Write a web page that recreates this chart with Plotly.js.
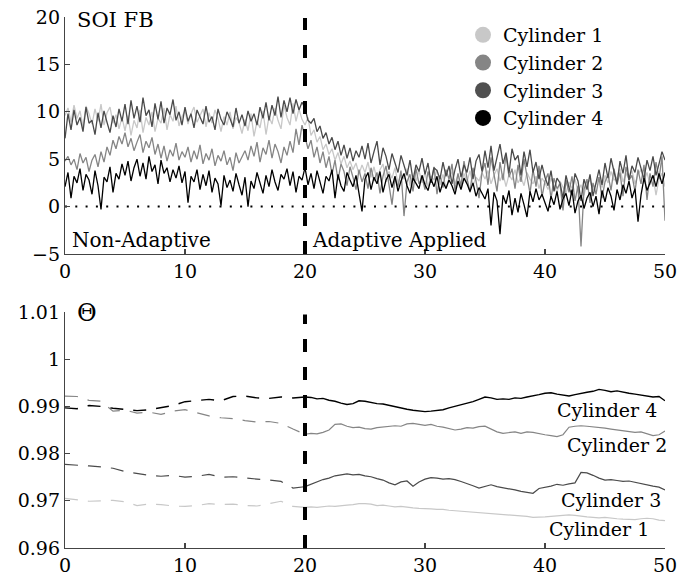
<!DOCTYPE html>
<html>
<head>
<meta charset="utf-8">
<script src="https://cdn.plot.ly/plotly-3.0.1.min.js"></script>
<style>html,body{margin:0;padding:0;background:#fff;}#chart{width:692px;height:578px;}</style>
</head>
<body>
<div id="chart"></div>
<script>
// ---------- DATA ----------
const seriesNames = ["Cylinder 1", "Cylinder 2", "Cylinder 3", "Cylinder 4"];
const topStep = 0.25;      // sample spacing of the SOI FB traces
const thetaPreStep = 1;    // sample spacing of Theta before adaptation (t = 0..20)
const thetaPostStep = 0.5; // sample spacing of Theta after adaptation (t = 20..50)
const adaptTime = 20;
const xTicks = [0, 10, 20, 30, 40, 50];
const soiTicks = [-5, 0, 5, 10, 15, 20];
const thetaTicks = [0.96, 0.97, 0.98, 0.99, 1, 1.01];
const thetaTickText = ["0.96", "0.97", "0.98", "0.99", "1", "1.01"];

// SOI FB, Cylinder 1 (t = 0..50 step 0.25)
const soiCyl1 = [
 9.6,10.4,8.9,10.7,9.3,10.1,8.4,10.6,9.8,8.7,10.3,9.0,10.8,8.6,9.9,10.5,8.8,9.7,8.2,9.4,
 8.0,9.6,7.5,9.1,8.3,10.2,7.8,9.4,8.6,10.0,7.9,9.3,8.8,10.4,8.1,9.7,9.0,10.6,8.5,9.5,
 10.1,8.7,9.8,10.5,8.9,9.6,10.3,8.4,9.9,8.8,10.2,9.3,7.9,9.5,8.6,10.0,8.2,9.4,8.9,7.7,
 9.2,8.0,9.8,7.4,9.0,8.3,10.1,7.6,9.5,8.7,10.4,9.1,8.2,10.7,9.4,8.6,10.9,9.0,10.3,9.2,
 8.6,9.4,7.5,8.1,6.8,7.4,6.0,6.6,5.5,6.1,4.9,5.7,4.5,5.3,4.1,4.8,3.9,4.6,3.4,4.4,
 3.6,4.7,3.1,4.2,2.8,3.9,4.5,2.6,3.7,3.0,4.1,2.4,3.5,2.9,4.0,2.2,3.3,2.7,3.8,2.5,
 3.6,2.1,3.2,2.8,3.9,2.3,3.4,1.9,3.0,3.7,2.4,3.3,2.0,3.5,2.6,3.8,2.2,3.1,2.7,3.6,
 2.9,3.8,2.4,3.3,4.0,2.7,3.5,2.1,3.4,2.8,3.9,2.5,3.1,2.2,3.6,2.9,2.4,3.2,1.9,3.0,
 2.5,1.8,3.0,2.2,1.5,2.7,2.0,1.4,2.6,1.9,2.9,1.6,2.3,1.2,2.5,2.8,1.7,2.4,3.1,2.0,
 3.3,2.5,3.7,2.8,3.1,4.0,2.6,3.5,2.9,3.8,2.4,3.4,3.9,2.7,3.6,2.3,3.2,1.2,2.9,3.5,
 2.1];
// SOI FB, Cylinder 2
const soiCyl2 = [
 4.8,5.3,4.4,5.0,3.9,5.6,4.6,5.2,3.7,4.9,5.5,4.2,5.8,4.7,6.3,5.4,7.0,6.1,7.4,6.6,
 7.8,6.3,7.2,5.9,6.8,7.6,5.7,6.9,6.2,7.3,5.5,6.6,5.1,6.4,4.8,6.0,5.3,6.7,4.9,5.8,
 5.2,6.3,4.7,5.9,5.0,6.5,4.5,5.6,4.9,6.1,4.3,5.4,4.8,5.9,4.4,5.2,3.8,5.7,4.6,5.3,
 5.9,4.9,6.4,5.3,6.8,4.7,6.2,5.5,7.0,5.1,6.6,5.8,4.6,6.3,5.4,6.9,5.7,8.2,6.5,8.6,
 7.4,6.1,7.0,5.2,6.3,4.6,5.8,4.1,5.3,3.4,4.9,2.8,4.5,3.7,2.2,4.2,3.1,1.8,3.9,2.6,
 3.5,1.9,4.1,2.7,3.6,1.4,3.2,4.3,2.3,0.2,3.0,2.1,3.8,-1.0,2.6,3.4,1.6,4.0,2.4,3.1,
 1.8,3.7,2.5,4.2,1.3,3.3,2.0,3.9,2.9,4.5,1.7,3.5,2.2,4.8,3.0,1.5,4.1,2.7,0.9,3.6,
 4.6,2.3,5.2,3.4,1.6,4.7,2.8,5.5,3.1,4.0,1.9,4.4,2.6,5.0,3.3,1.4,3.9,2.1,4.3,1.0,
 2.7,3.5,0.8,3.0,1.9,2.4,-0.4,2.8,1.5,3.2,0.6,2.2,-4.2,1.8,2.9,0.4,2.5,1.3,3.1,0.9,
 2.6,3.4,1.7,4.0,2.3,3.6,1.1,4.2,2.8,3.3,1.6,3.9,2.4,4.4,0.7,3.5,2.1,4.7,2.9,5.3,
 -1.5];
// SOI FB, Cylinder 3
const soiCyl3 = [
 7.2,9.8,8.1,10.2,8.6,9.4,7.9,10.5,8.8,9.1,7.6,9.9,8.3,10.1,8.9,7.8,9.6,8.4,10.3,9.0,
 10.8,8.7,11.2,9.3,10.6,8.9,11.5,9.6,10.2,8.4,10.9,9.2,11.1,8.8,10.4,9.7,11.3,9.1,10.0,8.6,
 10.5,9.0,9.8,8.3,10.2,9.4,8.7,10.6,8.9,9.5,8.1,10.3,9.2,8.6,10.0,9.3,8.4,10.4,8.8,9.7,
 8.5,10.1,9.0,9.8,8.6,10.5,9.3,11.0,9.1,10.7,9.6,11.6,9.4,11.2,10.0,11.5,9.8,11.3,10.2,11.0,
 10.4,9.1,8.8,9.3,7.9,8.5,7.2,7.8,6.6,7.3,6.0,6.9,5.4,6.5,5.1,6.2,4.8,5.9,5.2,6.4,
 5.0,6.7,4.6,5.8,6.9,4.4,6.2,5.3,3.9,5.6,4.7,3.6,5.4,4.2,3.3,4.9,2.8,4.4,3.7,5.1,
 3.4,4.6,2.5,4.1,3.8,2.9,4.7,3.2,4.3,2.4,3.9,5.0,3.1,4.4,3.6,5.2,2.9,4.8,5.5,3.7,
 5.9,4.1,6.4,3.8,5.3,6.6,4.5,5.7,3.5,6.1,4.9,5.4,3.3,5.8,4.2,6.0,3.6,4.7,2.9,4.4,
 3.1,2.2,3.8,1.6,3.0,2.5,0.9,3.3,2.0,1.2,3.5,2.7,0.6,2.9,1.8,3.4,1.1,2.6,3.9,2.3,
 4.6,3.0,5.1,3.7,2.4,4.8,3.5,5.4,2.8,4.3,3.6,5.2,4.0,2.9,4.9,3.8,5.3,3.3,4.5,5.8,
 4.9];
// SOI FB, Cylinder 4
const soiCyl4 = [
 2.1,3.6,0.9,3.2,2.5,4.0,1.7,3.4,2.8,1.3,3.8,2.2,-0.3,3.1,2.6,4.2,1.5,3.5,2.9,4.5,
 3.3,4.8,2.7,4.1,5.0,3.2,4.6,2.9,5.3,3.7,4.4,2.4,4.9,3.5,4.1,2.6,3.9,3.0,4.3,2.5,
 3.7,0.4,3.2,2.6,3.9,1.8,3.4,2.2,3.8,1.5,3.0,2.4,0.1,3.3,2.0,2.8,1.6,3.5,2.3,1.2,
 3.1,0.0,2.7,1.9,3.6,2.4,1.4,3.3,2.1,3.9,2.6,1.7,3.4,2.9,4.0,2.2,3.7,1.5,3.2,2.8,
 4.1,2.3,3.5,1.9,3.8,2.6,1.4,3.2,2.7,3.9,0.9,3.4,2.2,1.6,3.6,2.8,2.1,3.3,1.2,-0.5,
 2.9,3.6,1.8,3.1,2.4,3.7,1.5,2.8,3.4,2.0,3.2,1.6,2.7,3.5,2.2,1.4,3.0,2.5,1.9,3.3,
 2.3,1.7,2.9,2.1,3.2,1.5,2.6,1.9,2.8,2.2,1.3,2.7,1.8,3.0,2.4,1.6,2.5,1.1,2.0,1.4,
 0.8,1.9,-2.0,1.5,0.6,-2.9,1.2,0.3,1.7,-0.9,0.9,-0.6,1.4,0.2,-1.1,1.6,0.5,1.9,0.7,1.3,
 0.4,-0.5,1.1,0.2,1.6,-0.3,0.8,1.4,0.1,1.8,-0.7,0.6,1.2,-0.2,0.9,1.5,0.0,1.1,-0.8,1.7,
 0.5,2.0,1.1,-0.4,1.8,0.7,2.3,1.4,2.7,0.9,1.9,-1.6,1.2,3.0,1.7,2.6,3.3,2.1,3.5,2.4,
 3.6];

// Theta before adaptation (t = 0..20 step 1)
const thetaPreCyl1 = [0.9705,0.9702,0.9699,0.9700,0.9701,0.9698,0.9690,0.9693,0.9692,0.9689,0.9688,0.9690,0.9694,0.9692,0.9693,0.9690,0.9689,0.9694,0.9699,0.9688,0.9686];
const thetaPreCyl2 = [0.9922,0.9921,0.9913,0.9911,0.9890,0.9892,0.9886,0.9888,0.9883,0.9890,0.9893,0.9887,0.9880,0.9876,0.9874,0.9870,0.9867,0.9868,0.9864,0.9852,0.9841];
const thetaPreCyl3 = [0.9777,0.9776,0.9774,0.9772,0.9769,0.9762,0.9758,0.9754,0.9752,0.9754,0.9750,0.9752,0.9756,0.9750,0.9751,0.9748,0.9746,0.9744,0.9741,0.9727,0.9730];
const thetaPreCyl4 = [0.9897,0.9895,0.9902,0.9900,0.9896,0.9893,0.9891,0.9893,0.9898,0.9902,0.9910,0.9913,0.9915,0.9912,0.9921,0.9922,0.9918,0.9917,0.9920,0.9918,0.9920];

// Theta after adaptation (t = 20..50 step 0.5)
const thetaPostCyl1 = [0.9686,0.9687,0.9686,0.9688,0.9689,0.9688,0.9690,0.9691,0.9692,0.9694,0.9694,0.9693,0.9690,0.9691,0.9689,0.9687,0.9688,0.9686,0.9685,0.9684,0.9684,0.9683,0.9682,0.9682,0.9680,0.9679,0.9678,0.9677,0.9677,0.9676,0.9674,0.9673,0.9672,0.9671,0.9671,0.9669,0.9668,0.9667,0.9665,0.9665,0.9666,0.9667,0.9668,0.9669,0.9670,0.9669,0.9667,0.9666,0.9665,0.9664,0.9665,0.9663,0.9662,0.9661,0.9660,0.9660,0.9662,0.9663,0.9662,0.9659,0.9658];
const thetaPostCyl2 = [0.9841,0.9843,0.9842,0.9845,0.9850,0.9862,0.9863,0.9858,0.9855,0.9856,0.9853,0.9852,0.9855,0.9856,0.9857,0.9859,0.9858,0.9863,0.9864,0.9862,0.9860,0.9862,0.9858,0.9856,0.9853,0.9850,0.9852,0.9855,0.9854,0.9857,0.9858,0.9852,0.9846,0.9843,0.9845,0.9846,0.9843,0.9846,0.9845,0.9842,0.9840,0.9838,0.9836,0.9840,0.9856,0.9858,0.9859,0.9858,0.9857,0.9855,0.9854,0.9852,0.9850,0.9849,0.9847,0.9845,0.9846,0.9842,0.9838,0.9840,0.9848];
const thetaPostCyl3 = [0.9730,0.9735,0.9740,0.9745,0.9748,0.9753,0.9755,0.9757,0.9755,0.9756,0.9753,0.9751,0.9747,0.9744,0.9738,0.9734,0.9740,0.9742,0.9731,0.9740,0.9746,0.9749,0.9748,0.9746,0.9747,0.9745,0.9741,0.9737,0.9732,0.9727,0.9731,0.9734,0.9730,0.9728,0.9725,0.9723,0.9720,0.9718,0.9716,0.9726,0.9728,0.9731,0.9735,0.9733,0.9736,0.9738,0.9760,0.9759,0.9754,0.9748,0.9744,0.9745,0.9743,0.9741,0.9742,0.9739,0.9737,0.9733,0.9731,0.9729,0.9723];
const thetaPostCyl4 = [0.9920,0.9919,0.9916,0.9917,0.9913,0.9911,0.9907,0.9904,0.9906,0.9912,0.9911,0.9908,0.9906,0.9905,0.9902,0.9899,0.9897,0.9894,0.9892,0.9890,0.9889,0.9890,0.9891,0.9893,0.9897,0.9900,0.9904,0.9907,0.9910,0.9915,0.9920,0.9918,0.9915,0.9916,0.9915,0.9918,0.9917,0.9920,0.9922,0.9925,0.9928,0.9929,0.9926,0.9924,0.9922,0.9925,0.9928,0.9930,0.9932,0.9936,0.9934,0.9931,0.9933,0.9930,0.9928,0.9926,0.9924,0.9922,0.9920,0.9921,0.9912];

// ---------- BUILD ----------
function times(start, step, n){ const t=[]; for(let i=0;i<n;i++) t.push(+(start+i*step).toFixed(4)); return t; }
const tTop = times(0, topStep, soiCyl1.length);
const tPre = times(0, thetaPreStep, thetaPreCyl1.length);
const tPost = times(adaptTime, thetaPostStep, thetaPostCyl1.length);

const lineColors = ["#c8c8c8", "#858585", "#4a4a4a", "#000000"];
const legendColors = ["#c8c8c8", "#858585", "#505050", "#000000"];
const soi = [soiCyl1, soiCyl2, soiCyl3, soiCyl4];
const pre = [thetaPreCyl1, thetaPreCyl2, thetaPreCyl3, thetaPreCyl4];
const post = [thetaPostCyl1, thetaPostCyl2, thetaPostCyl3, thetaPostCyl4];

const FONT = "DejaVu Serif";
const traces = [];
soi.forEach((v, i) => traces.push({x: tTop, y: v, type: "scatter", mode: "lines", xaxis: "x", yaxis: "y",
  line: {color: lineColors[i], width: 1.3}, showlegend: false, hoverinfo: "skip"}));
pre.forEach((v, i) => traces.push({x: tPre, y: v, type: "scatter", mode: "lines", xaxis: "x2", yaxis: "y2",
  line: {color: lineColors[i], width: i === 3 ? 1.4 : 1.2, dash: "13px,10px"}, showlegend: false, hoverinfo: "skip"}));
post.forEach((v, i) => traces.push({x: tPost, y: v, type: "scatter", mode: "lines", xaxis: "x2", yaxis: "y2",
  line: {color: lineColors[i], width: i === 3 ? 1.4 : 1.2}, showlegend: false, hoverinfo: "skip"}));
seriesNames.forEach((n, i) => traces.push({x: [null], y: [null], type: "scatter", mode: "markers", name: n,
  xaxis: "x", yaxis: "y",
  marker: {color: legendColors[i], size: 16, symbol: "circle"}, showlegend: true}));

const axisCommon = {showgrid: false, zeroline: false, showline: true, linecolor: "#444", linewidth: 1.2,
  ticks: "inside", ticklen: 5, tickcolor: "#444", tickwidth: 1.2,
  tickfont: {family: FONT, size: 19, color: "#000"}, fixedrange: true};

const annFont = {family: FONT, size: 20, color: "#000"};
const lblFont = {family: FONT, size: 19, color: "#000"};
function pxX(p){ return (p - 65) / 600; }
function pxY(p){ return (548 - p) / 531; }
const layout = {
  width: 692, height: 578,
  margin: {l: 65, r: 27, t: 17, b: 30},
  paper_bgcolor: "#fff", plot_bgcolor: "#fff",
  font: {family: FONT},
  showlegend: true,
  legend: {x: pxX(463), y: pxY(16), xanchor: "left", yanchor: "top", font: {family: FONT, size: 19, color: "#000"},
    bgcolor: "rgba(0,0,0,0)", itemsizing: "trace", traceorder: "normal", tracegroupgap: 0},
  xaxis: Object.assign({}, axisCommon, {domain: [0, 1], range: [0, 50], anchor: "y", tickvals: xTicks}),
  yaxis: Object.assign({}, axisCommon, {domain: [0.5537, 1], range: [-5, 20], anchor: "x", tickvals: soiTicks}),
  xaxis2: Object.assign({}, axisCommon, {domain: [0, 1], range: [0, 50], anchor: "y2", tickvals: xTicks}),
  yaxis2: Object.assign({}, axisCommon, {domain: [0, 0.4444], range: [0.96, 1.01], anchor: "x2", tickvals: thetaTicks, ticktext: thetaTickText}),
  shapes: [
    {type: "line", xref: "x", yref: "y", x0: 0, x1: 50, y0: 0, y1: 0, line: {color: "#000", width: 2, dash: "2px,8.3px"}, layer: "below"},
    {type: "line", xref: "x", yref: "y", x0: adaptTime, x1: adaptTime, y0: -5, y1: 19.9, line: {color: "#000", width: 4, dash: "13px,15px"}},
    {type: "line", xref: "x2", yref: "y2", x0: adaptTime, x1: adaptTime, y0: 0.96, y1: 1.0095, line: {color: "#000", width: 4, dash: "13px,15px"}}
  ],
  annotations: [
    {xref: "paper", yref: "paper", x: pxX(75), y: pxY(19.5), xanchor: "left", yanchor: "middle", text: "SOI FB", showarrow: false, font: {family: FONT, size: 21, color: "#000"}},
    {xref: "paper", yref: "paper", x: pxX(70), y: pxY(240), xanchor: "left", yanchor: "middle", text: "Non-Adaptive", showarrow: false, font: annFont},
    {xref: "paper", yref: "paper", x: pxX(310), y: pxY(240), xanchor: "left", yanchor: "middle", text: "Adaptive Applied", showarrow: false, font: annFont},
    {xref: "paper", yref: "paper", x: pxX(75), y: pxY(313), xanchor: "left", yanchor: "middle", text: "Θ", showarrow: false, font: {family: FONT, size: 24, color: "#000"}},
    {xref: "paper", yref: "paper", x: pxX(659), y: pxY(410), xanchor: "right", yanchor: "middle", text: "Cylinder 4", showarrow: false, font: lblFont},
    {xref: "paper", yref: "paper", x: pxX(669), y: pxY(445), xanchor: "right", yanchor: "middle", text: "Cylinder 2", showarrow: false, font: lblFont},
    {xref: "paper", yref: "paper", x: pxX(663), y: pxY(500), xanchor: "right", yanchor: "middle", text: "Cylinder 3", showarrow: false, font: lblFont},
    {xref: "paper", yref: "paper", x: pxX(651), y: pxY(529), xanchor: "right", yanchor: "middle", text: "Cylinder 1", showarrow: false, font: lblFont}
  ]
};

Plotly.newPlot("chart", traces, layout, {displayModeBar: false, staticPlot: true});
</script>
</body>
</html>
